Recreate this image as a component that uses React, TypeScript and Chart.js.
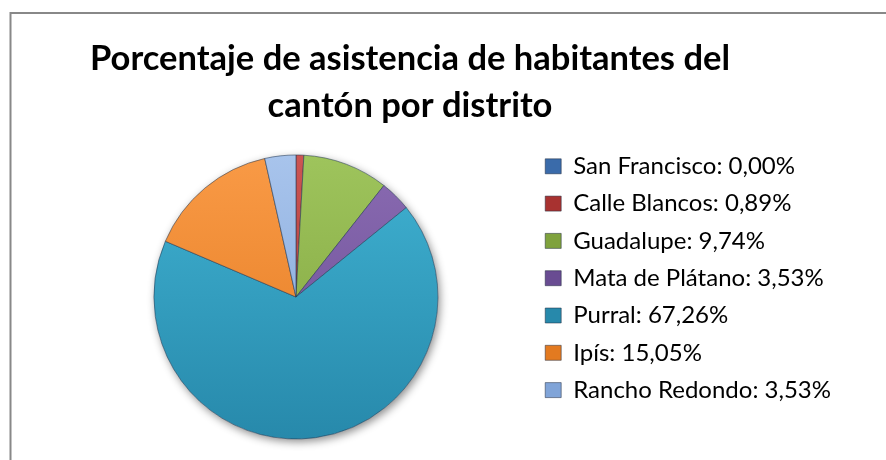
import React, { useEffect, useRef } from "react";
import { Chart, registerables } from "chart.js";

Chart.register(...registerables);

const titleLines = ["Porcentaje de asistencia de habitantes del", "cantón por distrito"];
const districts = ["San Francisco", "Calle Blancos", "Guadalupe", "Mata de Plátano", "Purral", "Ipís", "Rancho Redondo"];
const percentages = [0.0, 0.89, 9.74, 3.53, 67.26, 15.05, 3.53];
const lightColors = ["#5B8FCC", "#CC5553", "#9EC45C", "#8A6BB2", "#40B2D2", "#F99A46", "#A8C4EC"];
const darkColors = ["#3A6BAA", "#A83230", "#7FA23D", "#694C92", "#2789AB", "#E37A20", "#80A4D8"];

const fmt = (v: number) => v.toFixed(2).replace(".", ",") + "%";

const framePlugin = {
  id: "frame",
  beforeDraw(chart: any) {
    const ctx = chart.ctx;
    ctx.save();
    ctx.strokeStyle = "#888888";
    ctx.lineWidth = 2;
    ctx.beginPath();
    ctx.moveTo(10.5, 470);
    ctx.lineTo(10.5, 13);
    ctx.lineTo(900, 13);
    ctx.stroke();
    ctx.restore();
  },
};

const titlePlugin = {
  id: "manualTitle",
  afterDraw(chart: any) {
    const ctx = chart.ctx;
    ctx.save();
    ctx.fillStyle = "#000000";
    ctx.font = "bold 34.5px Lato";
    ctx.textAlign = "center";
    ctx.textBaseline = "alphabetic";
    ctx.fillText(titleLines[0], 410, 70);
    ctx.fillText(titleLines[1], 410, 117);
    ctx.restore();
  },
};

const shadowPlugin = {
  id: "pieShadow",
  beforeDatasetsDraw(chart: any) {
    const meta = chart.getDatasetMeta(0);
    const arc = meta.data[0];
    if (!arc) return;
    const { x, y, outerRadius } = arc.getProps(["x", "y", "outerRadius"], true);
    const ctx = chart.ctx;
    ctx.save();
    ctx.shadowColor = "rgba(0,0,0,0.45)";
    ctx.shadowBlur = 9;
    ctx.shadowOffsetX = 2;
    ctx.shadowOffsetY = 3;
    ctx.fillStyle = "#ffffff";
    ctx.beginPath();
    ctx.arc(x, y, outerRadius, 0, Math.PI * 2);
    ctx.fill();
    ctx.restore();
  },
};

export default function App() {
  const ref = useRef<HTMLCanvasElement | null>(null);
  useEffect(() => {
    if (!ref.current) return;
    const chart = new Chart(ref.current, {
      type: "pie",
      data: {
        labels: districts,
        datasets: [
          {
            data: percentages,
            radius: 142,
            backgroundColor: (c: any) => {
              const i = c.dataIndex;
              const area = c.chart.chartArea;
              if (!area) return lightColors[i];
              const cy = (area.top + area.bottom) / 2;
              const g = c.chart.ctx.createLinearGradient(0, cy - 142, 0, cy + 142);
              g.addColorStop(0, lightColors[i]);
              g.addColorStop(1, darkColors[i]);
              return g;
            },
            borderColor: "rgba(35,55,80,0.55)",
            borderWidth: 1,
          },
        ],
      },
      options: {
        responsive: false,
        animation: false,
        layout: { padding: { left: 60, right: 45, top: 141, bottom: 7 } },
        plugins: {
          title: { display: false },
          tooltip: { enabled: false },
          legend: {
            display: true,
            position: "right",
            align: "start",
            fullSize: false,
            labels: {
              boxWidth: 16,
              boxHeight: 15,
              padding: 13.3,
              color: "#000000",
              font: { family: "Lato", size: 24 },
              generateLabels: () =>
                districts.map((d, i) => ({
                  text: `${d}: ${fmt(percentages[i])}`,
                  fillStyle: darkColors[i],
                  strokeStyle: "rgba(30,40,60,0.5)",
                  lineWidth: 1,
                  hidden: false,
                  index: i,
                  datasetIndex: 0,
                })),
            },
          },
        },
      },
      plugins: [framePlugin, shadowPlugin, titlePlugin],
    });
    return () => chart.destroy();
  }, []);
  return (
    <div style={{ position: "fixed", left: 0, top: 0, width: 886, height: 460, background: "#ffffff" }}>
      <canvas ref={ref} width={886} height={460} style={{ display: "block" }} />
    </div>
  );
}
